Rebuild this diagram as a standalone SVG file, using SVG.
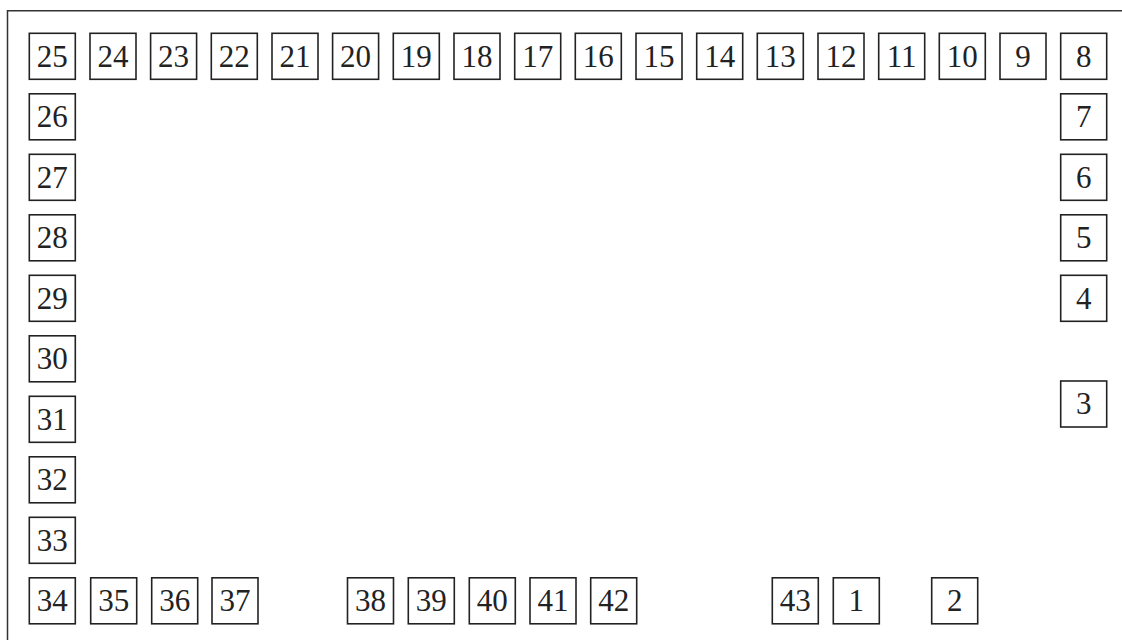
<svg xmlns="http://www.w3.org/2000/svg" width="1122" height="640" viewBox="0 0 1122 640">
<style>
.b{fill:#fff;stroke:#222;stroke-width:1.6}
.t{font-family:"Liberation Serif","Times New Roman",serif;font-size:31px;fill:#222;text-anchor:middle}
</style>
<rect width="1122" height="640" fill="#fff"/>
<path d="M7.5 645 V10.7 H1130" fill="none" stroke="#333" stroke-width="1.5"/>
<g id="connectors"/>
<g id="n25"><rect class="b" x="29.3" y="33.3" width="46" height="46"/><text class="t" x="52.3" y="66.6">25</text></g>
<g id="n24"><rect class="b" x="90" y="33.3" width="46" height="46"/><text class="t" x="113" y="66.6">24</text></g>
<g id="n23"><rect class="b" x="150.6" y="33.3" width="46" height="46"/><text class="t" x="173.6" y="66.6">23</text></g>
<g id="n22"><rect class="b" x="211.3" y="33.3" width="46" height="46"/><text class="t" x="234.3" y="66.6">22</text></g>
<g id="n21"><rect class="b" x="272" y="33.3" width="46" height="46"/><text class="t" x="295" y="66.6">21</text></g>
<g id="n20"><rect class="b" x="332.6" y="33.3" width="46" height="46"/><text class="t" x="355.6" y="66.6">20</text></g>
<g id="n19"><rect class="b" x="393.3" y="33.3" width="46" height="46"/><text class="t" x="416.3" y="66.6">19</text></g>
<g id="n18"><rect class="b" x="454" y="33.3" width="46" height="46"/><text class="t" x="477" y="66.6">18</text></g>
<g id="n17"><rect class="b" x="514.7" y="33.3" width="46" height="46"/><text class="t" x="537.7" y="66.6">17</text></g>
<g id="n16"><rect class="b" x="575.3" y="33.3" width="46" height="46"/><text class="t" x="598.3" y="66.6">16</text></g>
<g id="n15"><rect class="b" x="636" y="33.3" width="46" height="46"/><text class="t" x="659" y="66.6">15</text></g>
<g id="n14"><rect class="b" x="696.7" y="33.3" width="46" height="46"/><text class="t" x="719.7" y="66.6">14</text></g>
<g id="n13"><rect class="b" x="757.3" y="33.3" width="46" height="46"/><text class="t" x="780.3" y="66.6">13</text></g>
<g id="n12"><rect class="b" x="818" y="33.3" width="46" height="46"/><text class="t" x="841" y="66.6">12</text></g>
<g id="n11"><rect class="b" x="878.7" y="33.3" width="46" height="46"/><text class="t" x="901.7" y="66.6">11</text></g>
<g id="n10"><rect class="b" x="939.3" y="33.3" width="46" height="46"/><text class="t" x="962.3" y="66.6">10</text></g>
<g id="n9"><rect class="b" x="1000" y="33.3" width="46" height="46"/><text class="t" x="1023" y="66.6">9</text></g>
<g id="n8"><rect class="b" x="1060.7" y="33.3" width="46" height="46"/><text class="t" x="1083.7" y="66.6">8</text></g>
<g id="n7"><rect class="b" x="1060.7" y="93.8" width="46" height="46"/><text class="t" x="1083.7" y="127.1">7</text></g>
<g id="n6"><rect class="b" x="1060.7" y="154.3" width="46" height="46"/><text class="t" x="1083.7" y="187.6">6</text></g>
<g id="n5"><rect class="b" x="1060.7" y="214.8" width="46" height="46"/><text class="t" x="1083.7" y="248.1">5</text></g>
<g id="n4"><rect class="b" x="1060.7" y="275.3" width="46" height="46"/><text class="t" x="1083.7" y="308.6">4</text></g>
<g id="n3"><rect class="b" x="1060.7" y="381" width="46" height="46"/><text class="t" x="1083.7" y="414.3">3</text></g>
<g id="n26"><rect class="b" x="29.3" y="93.8" width="46" height="46"/><text class="t" x="52.3" y="127.1">26</text></g>
<g id="n27"><rect class="b" x="29.3" y="154.3" width="46" height="46"/><text class="t" x="52.3" y="187.6">27</text></g>
<g id="n28"><rect class="b" x="29.3" y="214.8" width="46" height="46"/><text class="t" x="52.3" y="248.1">28</text></g>
<g id="n29"><rect class="b" x="29.3" y="275.3" width="46" height="46"/><text class="t" x="52.3" y="308.6">29</text></g>
<g id="n30"><rect class="b" x="29.3" y="335.8" width="46" height="46"/><text class="t" x="52.3" y="369.1">30</text></g>
<g id="n31"><rect class="b" x="29.3" y="396.3" width="46" height="46"/><text class="t" x="52.3" y="429.6">31</text></g>
<g id="n32"><rect class="b" x="29.3" y="456.8" width="46" height="46"/><text class="t" x="52.3" y="490.1">32</text></g>
<g id="n33"><rect class="b" x="29.3" y="517.3" width="46" height="46"/><text class="t" x="52.3" y="550.6">33</text></g>
<g id="n34"><rect class="b" x="29.3" y="577.8" width="46" height="46"/><text class="t" x="52.3" y="611.1">34</text></g>
<g id="n35"><rect class="b" x="90.7" y="577.8" width="46" height="46"/><text class="t" x="113.7" y="611.1">35</text></g>
<g id="n36"><rect class="b" x="151.7" y="577.8" width="46" height="46"/><text class="t" x="174.7" y="611.1">36</text></g>
<g id="n37"><rect class="b" x="212" y="577.8" width="46" height="46"/><text class="t" x="235" y="611.1">37</text></g>
<g id="n38"><rect class="b" x="347.5" y="577.8" width="46" height="46"/><text class="t" x="370.5" y="611.1">38</text></g>
<g id="n39"><rect class="b" x="408.3" y="577.8" width="46" height="46"/><text class="t" x="431.3" y="611.1">39</text></g>
<g id="n40"><rect class="b" x="469.3" y="577.8" width="46" height="46"/><text class="t" x="492.3" y="611.1">40</text></g>
<g id="n41"><rect class="b" x="530" y="577.8" width="46" height="46"/><text class="t" x="553" y="611.1">41</text></g>
<g id="n42"><rect class="b" x="590.7" y="577.8" width="46" height="46"/><text class="t" x="613.7" y="611.1">42</text></g>
<g id="n43"><rect class="b" x="772.3" y="577.8" width="46" height="46"/><text class="t" x="795.3" y="611.1">43</text></g>
<g id="n1"><rect class="b" x="833.3" y="577.8" width="46" height="46"/><text class="t" x="856.3" y="611.1">1</text></g>
<g id="n2"><rect class="b" x="931.7" y="577.8" width="46" height="46"/><text class="t" x="954.7" y="611.1">2</text></g>
</svg>
